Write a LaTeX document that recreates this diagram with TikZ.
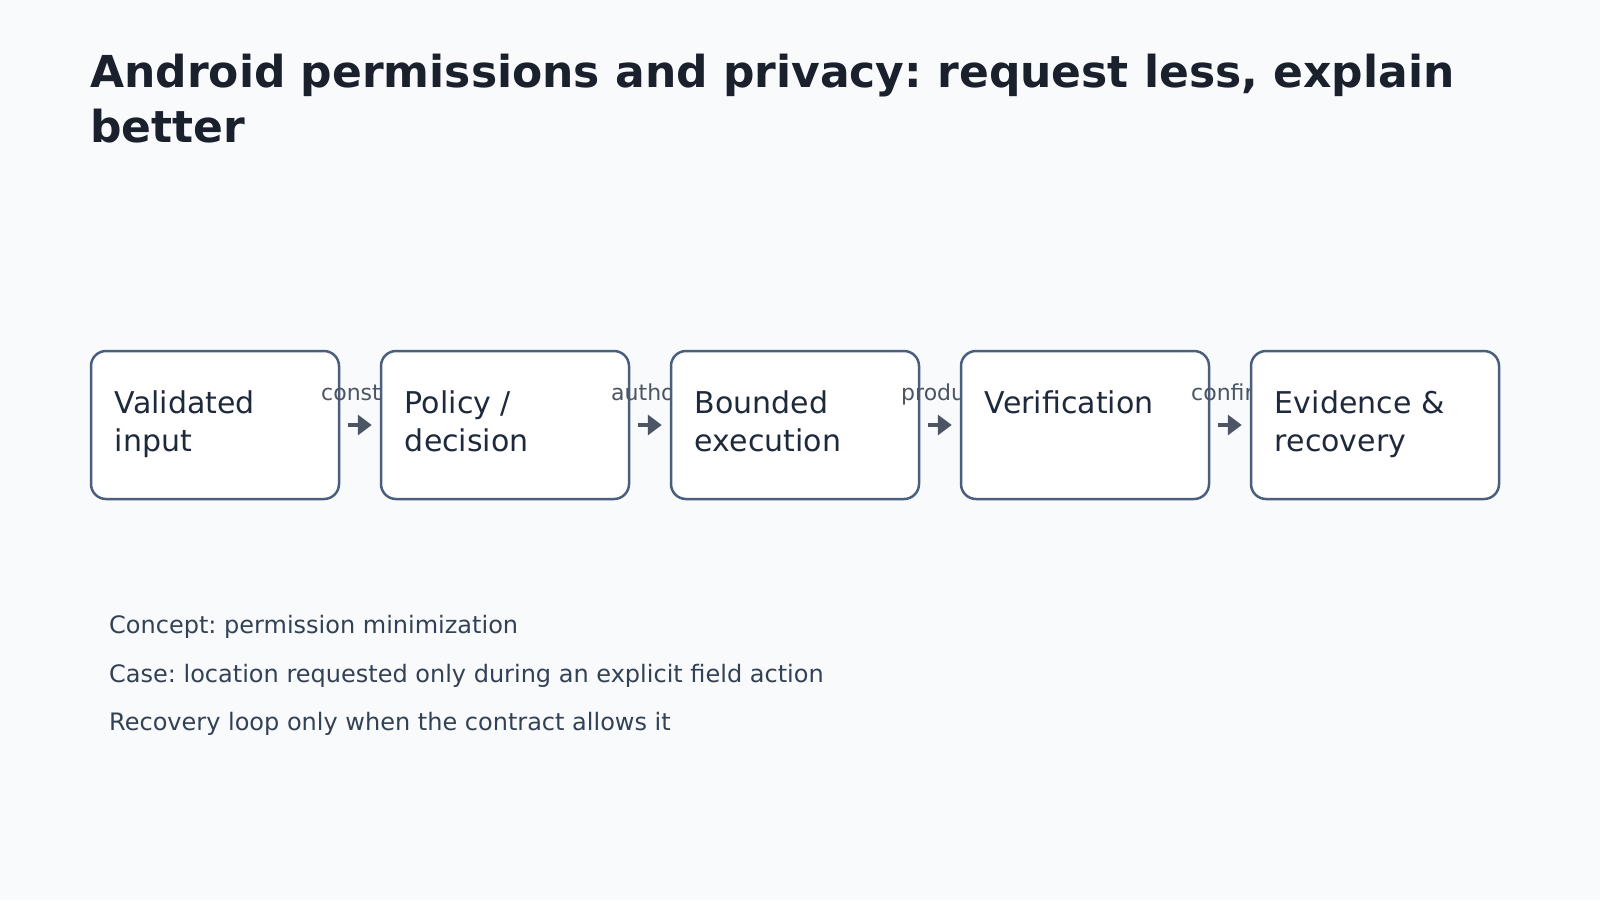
\documentclass[tikz,border=0pt]{standalone}
\usepackage{fontspec}
\setmainfont{DejaVu Sans}
\usetikzlibrary{arrows.meta}
\usetikzlibrary{positioning}
\frenchspacing
\definecolor{page bg}{HTML}{F8FAFC}
\definecolor{title ink}{HTML}{1A202C}
\definecolor{box line}{HTML}{4A5F7E}
\definecolor{box ink}{HTML}{1E293B}
\definecolor{label ink}{HTML}{4B5563}
\definecolor{note ink}{HTML}{334155}
\tikzset{>={Triangle[length=14pt,width=20pt]}}
\tikzset{
  stagebox/.style={draw=box line, line width=2.5pt, fill=white, rounded corners=15pt,
    minimum width=248pt, minimum height=148pt, inner sep=0pt},
  stagetext/.style={text=box ink, font=\fontsize{30}{38}\selectfont, align=left,
    anchor=base west, inner sep=0pt},
  flowlabel/.style={text=label ink, font=\fontsize{22}{26}\selectfont, anchor=base west, inner sep=0pt},
  note/.style={text=note ink, font=\fontsize{24}{29}\selectfont, anchor=base west, inner sep=0pt},
}

\begin{document}
\begin{tikzpicture}[x=1pt, y=-1pt]
  \fill[page bg] (0,0) rectangle (1600,900);
  \useasboundingbox (0,0) rectangle (1600,900);
  \node[text=title ink, font=\bfseries\fontsize{44}{55}\selectfont, align=left, anchor=base west, inner sep=0pt]
    (title) at (90, 142) {Android permissions and privacy: request less, explain\\better};
  % each box hides the start of the label before it
  \foreach \txt/\dy/\lab [count=\i] in {{Validated\\input}/102/constrains, {Policy /\\decision}/102/authorizes,
      {Bounded\\execution}/102/produces, {Verification}/64/confirms, {Evidence \&\\recovery}/102/} {
    \node[stagebox] (box\i) at (215 + 290*\i - 290, 425) {};
    \path (box\i.north west) ++(25, \dy) node[stagetext] (txt\i) {\txt};
    \node[flowlabel] (lab\i) at (31 + 290*\i, 400) {\lab};
  }
  \foreach \i [evaluate=\i as \j using int(\i+1)] in {1, ..., 4} {
    \draw[->, label ink, line width=4pt] ([xshift=8pt]box\i.east) -- ([xshift=-8pt]box\j.west);
  }
  \node[note] (note1) at (109, 633) {Concept: permission minimization};
  \node[note] (note2) at (109, 682) {Case: location requested only during an explicit field action};
  \node[note] (note3) at (109, 730) {Recovery loop only when the contract allows it};
\end{tikzpicture}
\end{document}
